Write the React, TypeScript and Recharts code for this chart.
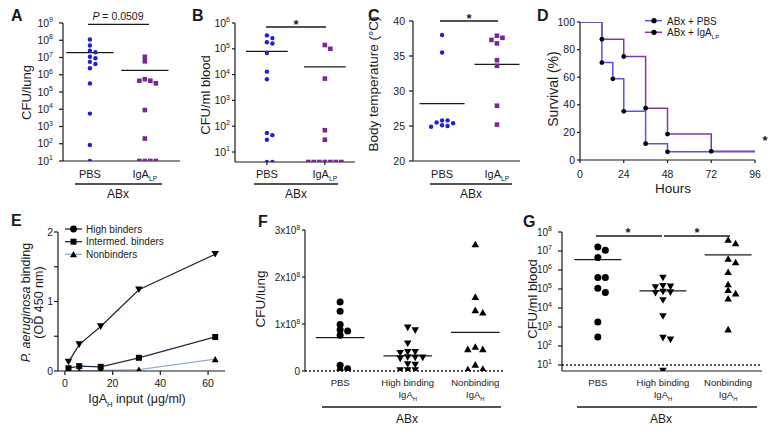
import React from "react";
import { ScatterChart, Scatter, XAxis, YAxis, ReferenceLine, LineChart, Line } from "recharts";

const FONT = "'Liberation Sans', Arial, Helvetica, sans-serif";
const INK = "#1a1a1a";
const BLUE = "#1f1fd6";
const PURPLE = "#7b2596";
const BLUE_L = "#5656e0";
const PURPLE_L = "#8a35a6";
const NAVY = "#1e2a40";
const STEEL = "#93aecb";

// ---- A: CFU/lung ----
const catsA = ["PBS", "IgA_LP"];
const lungPbsA = [1.1e8, 5e7, 2.5e7, 2e7, 1.1e7, 9e6, 5.6e6, 4.2e6, 2.4e6, 3.1e5, 5.6e3, 85, 10];
const lungIgaA = [1.1e7, 6e6, 5.5e5, 4.5e5, 4.5e5, 3.2e5, 9e3, 200, 10, 10, 10, 10];
const meanA = [1.9e7, 1.8e6];
const decadesA = [1e1, 1e2, 1e3, 1e4, 1e5, 1e6, 1e7, 1e8, 1e9];

// ---- B: CFU/ml blood ----
const catsB = ["PBS", "IgA_LP"];
const bloodPbsB = [3.3e5, 2.6e5, 1.8e5, 1.6e5, 6.8e4, 1.3e4, 6.6e3, 55, 45, 30, 4.1, 4.1];
const bloodIgaB = [1.4e5, 1e5, 7e3, 70, 30, 4.1, 4.1, 4.1, 4.1, 4.1, 4.1, 4.1];
const meanB = [8e4, 2e4];
const decadesB = [1e1, 1e2, 1e3, 1e4, 1e5, 1e6];

// ---- C: body temperature ----
const catsC = ["PBS", "IgA_LP"];
const tempPbsC = [38, 35.5, 25.8, 25.4, 25.0, 24.9, 25.1, 25.5, 25.8];
const tempIgaC = [37.9, 37.6, 37.3, 36.8, 34.4, 33.6, 27.9, 25.2];
const meanC = [28.2, 33.8];
const tempTicks = [20, 25, 30, 35, 40];

// ---- D: survival ----
const hoursPbs = [0, 12, 18, 24, 36, 48, 96];
const survPbs = [100, 70.6, 58.8, 35.3, 11.8, 5.9, 5.9];
const hoursIga = [0, 12, 24, 36, 48, 72, 96];
const survIga = [100, 87.5, 75, 37.5, 18.8, 6.3, 6.3];
const hourTicks = [0, 24, 48, 72, 96];
const survTicks = [0, 20, 40, 60, 80, 100];

// ---- E: binding ----
const inputUg = [1.5, 6, 15, 31, 63];
const highBinders = [0.13, 0.38, 0.64, 1.17, 1.68];
const intermedBinders = [0.04, 0.07, 0.06, 0.19, 0.49];
const nonBinders = [0.0, 0.0, 0.01, 0.02, 0.17];
const inputTicks = [0, 20, 40, 60];
const odTicks = [0, 0.5, 1, 1.5, 2];

// ---- F: CFU/lung ----
const catsFG = ["PBS", "High binding\nIgA_H", "Nonbinding\nIgA_H"];
const lungPbsF = [1.47e8, 1.27e8, 0.99e8, 0.88e8, 0.85e8, 0.76e8, 0.12e8, 0.05e8, 0.01e8];
const lungHighF = [9.2e7, 8.6e7, 5.8e7, 4e7, 4e7, 3.8e7, 2.9e7, 2.8e7, 2.8e7, 2.6e7, 1.4e7, 1.3e7, 1e6, 1e6, 1e6];
const lungNonF = [2.7e8, 1.58e8, 1.3e8, 1.25e8, 5.2e7, 4.7e7, 4.7e7, 1.4e7, 5e6, 4e6];
const meanF = [7.1e7, 3.2e7, 8.2e7];
const lungTicksF = [0, 1e8, 2e8, 3e8];

// ---- G: CFU/ml blood ----
const bloodPbsG = [1.6e7, 1.1e7, 4.5e6, 4e5, 4e5, 1.1e5, 6.5e4, 1.8e3, 3e2];
const bloodHighG = [3.8e5, 1.4e5, 1.3e5, 1.2e5, 7e4, 6.5e4, 6e4, 2.5e4, 3.6e3, 2.6e2, 2.1e2, 4.8];
const bloodNonG = [4e7, 2.6e7, 4e6, 2.6e6, 8e5, 1.8e5, 9e4, 6e4, 3.2e4, 7.6e2];
const meanG = [3.5e6, 8e4, 6.3e6];
const decadesG = [1e1, 1e2, 1e3, 1e4, 1e5, 1e6, 1e7, 1e8];

// spread points of one group sideways so they don't overlap (box collision)
function swarm(vals: number[], toPx: (v: number) => number, dx: number, dy: number): number[] {
  const order = vals.map((_, i) => i).sort((a, b) => toPx(vals[b]) - toPx(vals[a]));
  const placed: { x: number; y: number }[] = [];
  const off = vals.map(() => 0);
  for (const i of order) {
    const y = toPx(vals[i]);
    for (let k = 0; k < 60; k++) {
      const c = k === 0 ? 0 : (k % 2 === 1 ? 1 : -1) * Math.ceil(k / 2) * dx;
      if (placed.every((p) => Math.abs(p.x - c) >= dx - 0.01 || Math.abs(p.y - y) >= dy)) {
        off[i] = c;
        placed.push({ x: c, y });
        break;
      }
    }
  }
  return off;
}

const sub = (s: string, fs: number) => {
  const [a, b] = s.split("_");
  if (b === undefined) return a;
  return (
    <>
      {a}
      <tspan dy={fs * 0.3} fontSize={fs * 0.62}>{b}</tspan>
    </>
  );
};

const pow10 = (v: number) => (
  <>
    10<tspan dy={-4.5} fontSize={7}>{Math.round(Math.log10(v))}</tspan>
  </>
);
const plain = (v: number) => <>{v}</>;
const odLabel = (v: number) => <>{Number.isInteger(v) ? v : ""}</>;
const sciLabel = (v: number) =>
  v === 0 ? <>0</> : (
    <>
      {v / 1e8}x10<tspan dy={-4} fontSize={6.5}>8</tspan>
    </>
  );

const makeYTick = (label: (v: number) => React.ReactNode, fs: number) => (p: any) => (
  <text x={p.x} y={p.y} dy={fs * 0.35} textAnchor="end" fontSize={fs} fontFamily={FONT} fill={INK}>
    {label(p.payload.value)}
  </text>
);

const makeXTick = (fs: number, baseY: number) => (p: any) => (
  <text x={p.x} y={baseY} textAnchor="middle" fontSize={fs} fontFamily={FONT} fill={INK}>
    {p.payload.value}
  </text>
);

const makeCatTick = (cats: string[], fs: number, baseY: number, gap: number) => (p: any) => {
  const lines = (cats[Math.round(p.payload.value)] ?? "").split("\n");
  return (
    <g>
      {lines.map((ln, k) => (
        <text key={k} x={p.x} y={baseY + k * gap} textAnchor="middle" fontSize={fs} fontFamily={FONT} fill={INK}>
          {sub(ln, fs)}
        </text>
      ))}
    </g>
  );
};

const circle = (r: number, fill: string) => (p: any) => <circle cx={p.cx} cy={p.cy} r={r} fill={fill} />;
const square = (s: number, fill: string) => (p: any) => (
  <rect x={p.cx - s / 2} y={p.cy - s / 2} width={s} height={s} fill={fill} />
);
const triUp = (s: number, fill: string) => (p: any) => (
  <polygon
    points={`${p.cx - s / 2},${p.cy + s * 0.43} ${p.cx + s / 2},${p.cy + s * 0.43} ${p.cx},${p.cy - s * 0.45}`}
    fill={fill}
  />
);
const triDown = (s: number, fill: string) => (p: any) => (
  <polygon
    points={`${p.cx - s / 2},${p.cy - s * 0.43} ${p.cx + s / 2},${p.cy - s * 0.43} ${p.cx},${p.cy + s * 0.45}`}
    fill={fill}
  />
);

const YW = 60;
const MT = 12;
const MR = 12;
const XH = 48;
const axisStroke = { stroke: INK, strokeWidth: 1.2 };

interface DotPlotProps {
  box: [number, number, number, number];
  groups: number[][];
  cats: string[];
  means: number[];
  shapes: ((p: any) => React.ReactElement)[];
  xDomain: [number, number];
  yDomain: [number, number];
  log?: boolean;
  yTicks: number[];
  yLabel: (v: number) => React.ReactNode;
  yFont: number;
  yTickSize: number;
  yTickGap: number;
  catFont: number;
  catOff: number;
  catGap: number;
  meanHalf: number;
  gapX: number;
  gapY: number;
  xTickSize?: number;
  xAxisLine?: boolean;
  dotted?: number;
}

function DotPlot(props: DotPlotProps) {
  const [L, T, R, B] = props.box;
  const pw = R - L;
  const ph = B - T;
  const [x0, x1] = props.xDomain;
  const ppu = pw / (x1 - x0);
  const [y0, y1] = props.yDomain;
  const toPx = props.log
    ? (v: number) => ((Math.log10(v) - Math.log10(y0)) / (Math.log10(y1) - Math.log10(y0))) * ph
    : (v: number) => ((v - y0) / (y1 - y0)) * ph;
  const series = props.groups.map((g, i) => {
    const off = swarm(g, toPx, props.gapX, props.gapY);
    return g.map((v, j) => ({ x: i + off[j] / ppu, y: v }));
  });
  return (
    <div style={{ position: "absolute", left: L - YW, top: T - MT }}>
      <ScatterChart width={YW + pw + MR} height={MT + ph + XH} margin={{ top: MT, right: MR, bottom: 0, left: 0 }}>
        <XAxis
          type="number"
          dataKey="x"
          domain={props.xDomain}
          allowDataOverflow
          ticks={props.cats.map((_, i) => i)}
          interval={0}
          height={XH}
          axisLine={props.xAxisLine === false ? false : axisStroke}
          tickLine={props.xTickSize ? axisStroke : false}
          tickSize={props.xTickSize ?? 0}
          tick={makeCatTick(props.cats, props.catFont, MT + ph + props.catOff, props.catGap)}
        />
        <YAxis
          type="number"
          dataKey="y"
          scale={props.log ? "log" : "linear"}
          domain={props.yDomain}
          allowDataOverflow
          ticks={props.yTicks}
          interval={0}
          width={YW}
          axisLine={axisStroke}
          tickLine={axisStroke}
          tickSize={props.yTickSize}
          tickMargin={props.yTickGap}
          tick={makeYTick(props.yLabel, props.yFont)}
        />
        {props.dotted !== undefined && (
          <ReferenceLine y={props.dotted} stroke={INK} strokeWidth={1.4} strokeDasharray="2 2" />
        )}
        {series.map((d, i) => (
          <Scatter key={i} data={d} shape={props.shapes[i]} isAnimationActive={false} />
        ))}
        {props.means.map((m, i) => (
          <ReferenceLine
            key={"m" + i}
            segment={[
              { x: i - props.meanHalf, y: m },
              { x: i + props.meanHalf, y: m },
            ]}
            stroke={INK}
            strokeWidth={1.3}
          />
        ))}
      </ScatterChart>
    </div>
  );
}

const stepDot = (last: number) => (p: any) =>
  p.index > 0 && p.index < last ? (
    <circle key={"d" + p.index} cx={p.cx} cy={p.cy} r={2.4} fill="#000" />
  ) : (
    <g key={"d" + p.index} />
  );

function SurvivalPlot() {
  const [L, T, R, B] = [580, 22, 755, 160];
  const pw = R - L;
  const ph = B - T;
  const pbs = hoursPbs.map((x, i) => ({ x, y: survPbs[i] }));
  const iga = hoursIga.map((x, i) => ({ x, y: survIga[i] }));
  return (
    <div style={{ position: "absolute", left: L - YW, top: T - MT }}>
      <LineChart width={YW + pw + MR} height={MT + ph + XH} margin={{ top: MT, right: MR, bottom: 0, left: 0 }}>
        <XAxis
          type="number"
          dataKey="x"
          domain={[0, 96]}
          allowDataOverflow
          ticks={hourTicks}
          interval={0}
          height={XH}
          axisLine={axisStroke}
          tickLine={axisStroke}
          tickSize={3}
          tick={makeXTick(10.5, MT + ph + 18)}
        />
        <YAxis
          type="number"
          domain={[0, 100]}
          allowDataOverflow
          ticks={survTicks}
          interval={0}
          width={YW}
          axisLine={axisStroke}
          tickLine={axisStroke}
          tickSize={3}
          tickMargin={2}
          tick={makeYTick(plain, 10.5)}
        />
        <Line data={iga} dataKey="y" type="stepAfter" stroke={PURPLE_L} strokeWidth={1.5} dot={stepDot(iga.length - 1)} isAnimationActive={false} />
        <Line data={pbs} dataKey="y" type="stepAfter" stroke={BLUE_L} strokeWidth={1.5} dot={stepDot(pbs.length - 1)} isAnimationActive={false} />
      </LineChart>
    </div>
  );
}

const markDot = (shape: (p: any) => React.ReactElement) => (p: any) => <g key={"k" + p.index}>{shape(p)}</g>;

function BindingPlot() {
  const [L, T, R, B] = [58, 232, 225, 371];
  const pw = R - L;
  const ph = B - T;
  const data = inputUg.map((x, i) => ({ x, high: highBinders[i], inter: intermedBinders[i], non: nonBinders[i] }));
  return (
    <div style={{ position: "absolute", left: L - YW, top: T - MT }}>
      <LineChart width={YW + pw + MR} height={MT + ph + XH} data={data} margin={{ top: MT, right: MR, bottom: 0, left: 0 }}>
        <XAxis
          type="number"
          dataKey="x"
          domain={[-2.9, 67.1]}
          allowDataOverflow
          ticks={inputTicks}
          interval={0}
          height={XH}
          axisLine={axisStroke}
          tickLine={axisStroke}
          tickSize={4}
          tick={makeXTick(10.5, MT + ph + 15.5)}
        />
        <YAxis
          type="number"
          domain={[0, 2]}
          allowDataOverflow
          ticks={odTicks}
          interval={0}
          width={YW}
          axisLine={axisStroke}
          tickLine={axisStroke}
          tickSize={4}
          tickMargin={1}
          tick={makeYTick(odLabel, 10.5)}
        />
        <Line dataKey="non" stroke={STEEL} strokeWidth={1.3} dot={markDot(triUp(7, "#000"))} isAnimationActive={false} />
        <Line dataKey="inter" stroke={NAVY} strokeWidth={1.3} dot={markDot(square(6, "#000"))} isAnimationActive={false} />
        <Line dataKey="high" stroke={NAVY} strokeWidth={1.3} dot={markDot(triDown(7.5, "#000"))} isAnimationActive={false} />
      </LineChart>
    </div>
  );
}

const txt = { fontFamily: FONT, fill: INK } as const;

function VText({ x, y, fs, children }: { x: number; y: number; fs: number; children: React.ReactNode }) {
  return (
    <text transform={`translate(${x},${y}) rotate(-90)`} textAnchor="middle" fontSize={fs} {...txt}>
      {children}
    </text>
  );
}

function HText({ x, y, fs, children, bold }: { x: number; y: number; fs: number; children: React.ReactNode; bold?: boolean }) {
  return (
    <text x={x} y={y} textAnchor="middle" fontSize={fs} fontWeight={bold ? "bold" : "normal"} {...txt}>
      {children}
    </text>
  );
}

const Seg = ({ x1, x2, y }: { x1: number; x2: number; y: number }) => (
  <line x1={x1} x2={x2} y1={y} y2={y} stroke={INK} strokeWidth={1.3} />
);

function Overlay() {
  const letters: [string, number, number][] = [
    ["A", 11, 21], ["B", 192, 21], ["C", 368, 21], ["D", 537, 21],
    ["E", 11, 226], ["F", 258, 227], ["G", 523, 227],
  ];
  return (
    <svg width={780} height={433} style={{ position: "absolute", left: 0, top: 0, pointerEvents: "none" }}>
      {letters.map(([l, x, y]) => (
        <text key={l} x={x} y={y} fontSize={16} fontWeight="bold" {...txt}>{l}</text>
      ))}

      <VText x={31} y={92.5} fs={13}>CFU/lung</VText>
      <VText x={209.5} y={95} fs={13}>CFU/ml blood</VText>
      <VText x={377.5} y={84} fs={13.5}>Body temperature (°C)</VText>
      <VText x={558} y={89} fs={14}>Survival (%)</VText>
      <VText x={29.5} y={302.5} fs={12.5}><tspan fontStyle="italic">P. aeruginosa</tspan> binding</VText>
      <VText x={42.5} y={302.5} fs={12.5}>(OD 450 nm)</VText>
      <VText x={264.5} y={299} fs={13.5}>CFU/lung</VText>
      <VText x={536.5} y={299} fs={13}>CFU/ml blood</VText>

      <HText x={673} y={193} fs={13.5}>Hours</HText>
      <HText x={137} y={403} fs={12.5}>{sub("IgA_H", 12.5)}<tspan dy={-12.5 * 0.3}> input (μg/ml)</tspan></HText>

      <Seg x1={75} x2={162} y={184} />
      <HText x={118} y={198} fs={12}>ABx</HText>
      <Seg x1={254} x2={338} y={184} />
      <HText x={296} y={198} fs={12}>ABx</HText>
      <Seg x1={430} x2={512} y={184} />
      <HText x={471} y={198} fs={12}>ABx</HText>
      <Seg x1={322} x2={501} y={407} />
      <HText x={407} y={423} fs={12}>ABx</HText>
      <Seg x1={577} x2={757} y={407} />
      <HText x={661} y={423} fs={12}>ABx</HText>

      <Seg x1={88} x2={149} y={24.3} />
      <HText x={118} y={20} fs={10.5}><tspan fontStyle="italic">P</tspan> = 0.0509</HText>
      <Seg x1={266} x2={326} y={27} />
      <HText x={296} y={28.5} fs={13} bold>*</HText>
      <Seg x1={440} x2={498} y={21} />
      <HText x={469} y={23} fs={13} bold>*</HText>
      <Seg x1={596} x2={662} y={236} />
      <Seg x1={664} x2={730} y={236} />
      <HText x={628} y={236.5} fs={13} bold>*</HText>
      <HText x={697} y={236.5} fs={13} bold>*</HText>
      <HText x={765} y={145} fs={13} bold>*</HText>

      {/* D legend */}
      <line x1={645} x2={662} y1={20.7} y2={20.7} stroke={BLUE_L} strokeWidth={1.5} />
      <circle cx={654} cy={20.7} r={2.6} fill="#000" />
      <text x={667} y={24.5} fontSize={10} {...txt}>ABx + PBS</text>
      <line x1={645} x2={662} y1={32.3} y2={32.3} stroke={PURPLE_L} strokeWidth={1.5} />
      <circle cx={654} cy={32.3} r={2.6} fill="#000" />
      <text x={667} y={36} fontSize={10} {...txt}>ABx + {sub("IgA_LP", 10)}</text>

      {/* E legend */}
      <line x1={65} x2={82} y1={229} y2={229} stroke={NAVY} strokeWidth={1.3} />
      <circle cx={73.5} cy={229} r={3.4} fill="#000" />
      <text x={86} y={232.6} fontSize={10} {...txt}>High binders</text>
      <line x1={65} x2={82} y1={241.7} y2={241.7} stroke={NAVY} strokeWidth={1.3} />
      <rect x={70.5} y={238.7} width={6} height={6} fill="#000" />
      <text x={86} y={245.3} fontSize={10} {...txt}>Intermed. binders</text>
      <line x1={65} x2={82} y1={254.3} y2={254.3} stroke={STEEL} strokeWidth={1.3} />
      <polygon points="70,257.3 77,257.3 73.5,251" fill="#000" />
      <text x={86} y={257.9} fontSize={10} {...txt}>Nonbinders</text>
    </svg>
  );
}

export default function App() {
  return (
    <div style={{ position: "absolute", left: 0, top: 0, width: 780, height: 433, background: "#fff", overflow: "hidden" }}>
      <DotPlot
        box={[63, 23, 180, 161]}
        groups={[lungPbsA, lungIgaA]}
        cats={catsA}
        means={meanA}
        shapes={[circle(2.2, BLUE), square(4.6, PURPLE)]}
        xDomain={[-0.49, 1.64]}
        yDomain={[10, 1e9]}
        log
        yTicks={decadesA}
        yLabel={pow10}
        yFont={10.5}
        yTickSize={4}
        yTickGap={6}
        catFont={11}
        catOff={17}
        catGap={12}
        meanHalf={0.43}
        gapX={5.5}
        gapY={4.5}
      />
      <DotPlot
        box={[235, 23, 355, 162]}
        groups={[bloodPbsB, bloodIgaB]}
        cats={catsB}
        means={meanB}
        shapes={[circle(2.2, BLUE), square(4.6, PURPLE)]}
        xDomain={[-0.55, 1.52]}
        yDomain={[4.1, 1e6]}
        log
        yTicks={decadesB}
        yLabel={pow10}
        yFont={10.5}
        yTickSize={3}
        yTickGap={2}
        catFont={11}
        catOff={16}
        catGap={12}
        meanHalf={0.36}
        gapX={5.5}
        gapY={4.5}
        xTickSize={3}
      />
      <DotPlot
        box={[413, 21, 520, 161]}
        groups={[tempPbsC, tempIgaC]}
        cats={catsC}
        means={meanC}
        shapes={[circle(2.2, BLUE), square(4.6, PURPLE)]}
        xDomain={[-0.53, 1.42]}
        yDomain={[20, 40]}
        yTicks={tempTicks}
        yLabel={plain}
        yFont={10.5}
        yTickSize={4}
        yTickGap={4}
        catFont={11}
        catOff={17}
        catGap={12}
        meanHalf={0.41}
        gapX={5.5}
        gapY={4.5}
      />
      <SurvivalPlot />
      <BindingPlot />
      <DotPlot
        box={[305, 230, 503, 371]}
        groups={[lungPbsF, lungHighF, lungNonF]}
        cats={catsFG}
        means={meanF}
        shapes={[circle(3.5, "#000"), triDown(7.5, "#000"), triUp(7.5, "#000")]}
        xDomain={[-0.52, 2.41]}
        yDomain={[0, 3e8]}
        yTicks={lungTicksF}
        yLabel={sciLabel}
        yFont={10}
        yTickSize={3}
        yTickGap={2}
        catFont={9.5}
        catOff={14.5}
        catGap={12.5}
        meanHalf={0.36}
        gapX={7.5}
        gapY={5}
        xAxisLine={false}
        dotted={0}
      />
      <DotPlot
        box={[562, 232, 762, 371]}
        groups={[bloodPbsG, bloodHighG, bloodNonG]}
        cats={catsFG}
        means={meanG}
        shapes={[circle(3.5, "#000"), triDown(7.5, "#000"), triUp(7.5, "#000")]}
        xDomain={[-0.55, 2.52]}
        yDomain={[4.8, 1e8]}
        log
        yTicks={decadesG}
        yLabel={pow10}
        yFont={10}
        yTickSize={4}
        yTickGap={6}
        catFont={9.5}
        catOff={14.5}
        catGap={12.5}
        meanHalf={0.36}
        gapX={7.5}
        gapY={5}
        dotted={10}
      />
      <Overlay />
    </div>
  );
}
